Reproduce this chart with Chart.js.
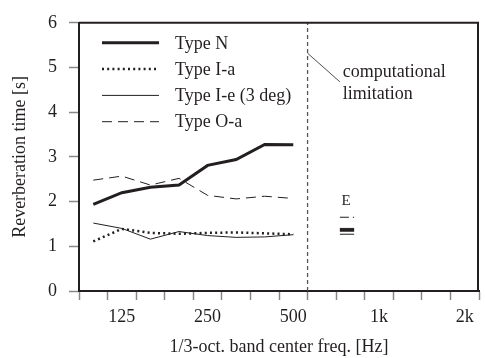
<!DOCTYPE html>
<html><head><meta charset="utf-8">
<script src="https://cdn.jsdelivr.net/npm/chart.js@4"></script>
<style>html,body{margin:0;padding:0;background:#fff}</style>
</head><body>
<canvas id="c" width="485" height="358"></canvas>
<script>
// 1/3-octave band centres (index 0..13)
const bands = ['100','125','160','200','250','315','400','500','630','800','1k','1.25k','1.6k','2k'];
const tickLabels = {1:'125', 4:'250', 7:'500', 10:'1k', 13:'2k'};
const typeN  = [1.94, 2.20, 2.32, 2.37, 2.81, 2.94, 3.28, 3.27];
const typeIa = [1.11, 1.39, 1.30, 1.28, 1.30, 1.31, 1.29, 1.27];
const typeIe = [1.52, 1.40, 1.16, 1.33, 1.24, 1.20, 1.21, 1.26];
const typeOa = [2.48, 2.57, 2.37, 2.52, 2.14, 2.06, 2.12, 2.07];
// experimental values "E"
const expIndex = 8.88;
const expN = 1.36, expIa = 1.40, expIe = 1.27, expOa = 1.65;
// computational limitation boundary (band edge between 500 and 630)
const limitIndex = 7.5;
const leader = [{x: 7.5, y: 5.32}, {x: 8.63, y: 4.68}];
const yTicks = [0,1,2,3,4,5,6];

const INK = '#231f20';
const FONT = 'Liberation Serif';
const FS = 18;
const toXY = arr => arr.map((v, i) => ({x: i, y: v}));
const EW = 0.25;
const seg = v => [{x: expIndex - EW, y: v}, {x: expIndex + EW, y: v}];

const styles = {
  N:  {borderColor: INK, borderWidth: 3, borderDash: []},
  Ia: {borderColor: INK, borderWidth: 2.5, borderDash: [2, 3.2]},
  Ie: {borderColor: INK, borderWidth: 1, borderDash: []},
  Oa: {borderColor: INK, borderWidth: 1, borderDash: [10, 6]}
};
const mk = (label, data, st) => Object.assign({label, data, pointRadius: 0, fill: false, tension: 0}, st);

const datasets = [
  mk('Type N', toXY(typeN), styles.N),
  mk('Type I-a', toXY(typeIa), styles.Ia),
  mk('Type I-e (3 deg)', toXY(typeIe), styles.Ie),
  mk('Type O-a', toXY(typeOa), styles.Oa),
  mk('E N', seg(expN), styles.N),
  mk('E Ia', seg(expIa), {borderColor: INK, borderWidth: 1, borderDash: []}),
  mk('E Ie', seg(expIe), styles.Ie),
  mk('E Oa', seg(expOa), {borderColor: INK, borderWidth: 1.2, borderDash: [9, 4, 1.5, 4]}),
  mk('limit', [{x: limitIndex, y: 0}, {x: limitIndex, y: 6}], {borderColor: '#555', borderWidth: 1.3, borderDash: [4, 3]}),
  mk('leader', leader, {borderColor: INK, borderWidth: 0.8, borderDash: []})
];

const legendItems = [
  ['Type N', styles.N], ['Type I-a', styles.Ia], ['Type I-e (3 deg)', styles.Ie], ['Type O-a', styles.Oa]
];

const overlay = {
  id: 'overlay',
  afterDatasetsDraw(chart) {
    const {ctx, chartArea: a, scales: {x, y}} = chart;
    ctx.save();
    // frame top & right
    ctx.strokeStyle = INK; ctx.lineWidth = 2; ctx.setLineDash([]);
    ctx.beginPath();
    ctx.moveTo(a.left, a.top); ctx.lineTo(a.right - 1, a.top); ctx.lineTo(a.right - 1, a.bottom);
    ctx.stroke();
    // legend
    ctx.font = FS + 'px "' + FONT + '"';
    ctx.textBaseline = 'middle'; ctx.textAlign = 'left';
    legendItems.forEach(([t, st], i) => {
      const yy = a.top + 20 + i * 26.3;
      ctx.strokeStyle = st.borderColor; ctx.lineWidth = st.borderWidth; ctx.setLineDash(st.borderDash);
      ctx.beginPath(); ctx.moveTo(a.left + 23, yy); ctx.lineTo(a.left + 80, yy); ctx.stroke();
      ctx.fillStyle = INK; ctx.fillText(t, a.left + 96, yy + 1);
    });
    // annotation text
    const lx = x.getPixelForValue(leader[1].x), ly = y.getPixelForValue(leader[1].y);
    ctx.fillText('computational', lx + 3, ly - 10);
    ctx.fillText('limitation', lx + 3, ly + 12);
    // E label
    ctx.font = '15px "' + FONT + '"'; ctx.textAlign = 'center';
    ctx.fillText('E', x.getPixelForValue(expIndex) - 1, y.getPixelForValue(expOa) - 16);
    ctx.restore();
  }
};

new Chart(document.getElementById('c'), {
  type: 'line',
  data: {datasets},
  plugins: [overlay],
  options: {
    responsive: false, animation: false,
    layout: {padding: {top: 19, right: 1, left: 0, bottom: 0}},
    plugins: {legend: {display: false}, tooltip: {enabled: false}},
    scales: {
      x: {
        type: 'linear', min: -0.5, max: 13.5,
        afterBuildTicks(s) {
          const t = [];
          for (let i = 0; i <= 14; i++) t.push({value: i - 0.5});
          Object.keys(tickLabels).forEach(k => t.push({value: +k}));
          t.sort((p, q) => p.value - q.value);
          s.ticks = t;
        },
        afterFit(s) { s.height = 67; },
        border: {display: true, color: INK, width: 2},
        grid: {drawOnChartArea: false, drawTicks: true, tickLength: 9, tickWidth: 1.5,
               tickColor: c => (c.tick && Number.isInteger(c.tick.value)) ? 'rgba(0,0,0,0)' : '#888'},
        ticks: {autoSkip: false, maxRotation: 0, padding: 6, color: INK,
                font: {family: FONT, size: FS},
                callback: v => tickLabels[v] !== undefined ? tickLabels[v] : ''},
        title: {display: true, text: '1/3-oct. band center freq. [Hz]', color: INK,
                font: {family: FONT, size: FS}, padding: {top: 0, bottom: 0}}
      },
      y: {
        min: 0, max: 6,
        afterBuildTicks(s) {
          const t = [];
          for (let v = 0; v <= 12; v++) t.push({value: v / 2});
          s.ticks = t;
        },
        afterFit(s) { s.width = 79; },
        border: {display: true, color: INK, width: 2},
        grid: {drawOnChartArea: false, drawTicks: true, tickLength: 10, tickWidth: 1.5, tickColor: '#888',
               tickBorderDash: c => (c.tick && Number.isInteger(c.tick.value)) ? [] : [0, 5, 5, 100]},
        ticks: {padding: 12, color: INK, font: {family: FONT, size: FS},
                callback: v => yTicks.includes(v) ? String(v) : ''},
        title: {display: true, text: 'Reverberation time [s]', color: INK,
                font: {family: FONT, size: FS}, padding: {top: 9, bottom: 0}}
      }
    }
  }
});
</script>
</body></html>
